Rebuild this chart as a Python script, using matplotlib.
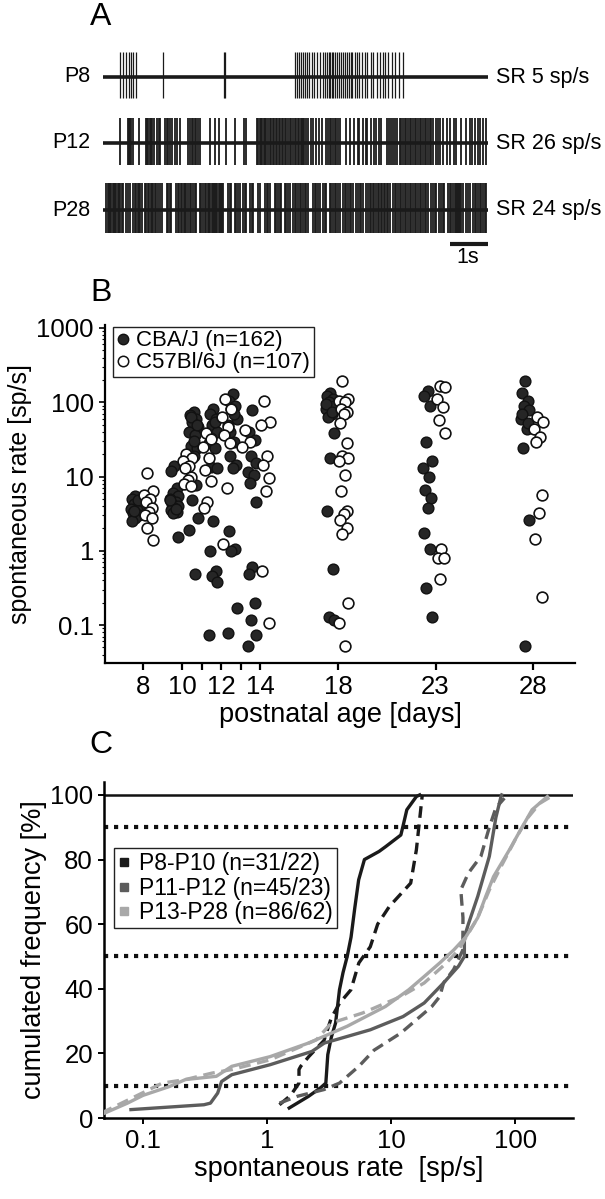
import numpy as np
import matplotlib
matplotlib.use('Agg')
import matplotlib.pyplot as plt
from matplotlib.lines import Line2D
from matplotlib.ticker import LogLocator, NullFormatter

plt.rcParams['font.family'] = ['Liberation Sans', 'DejaVu Sans']

# ---------------- panel A : example spike trains (spike times in s) ----------------
trace_names = ['P8', 'P12', 'P28']
trace_rates = ['SR 5 sp/s', 'SR 26 sp/s', 'SR 24 sp/s']

spikes_p8 = [0.44, 0.53, 0.61, 0.68, 0.74, 0.79, 0.85, 1.57, 3.13, 3.16,
             4.99, 5.03, 5.08, 5.13, 5.19, 5.24, 5.29, 5.36, 5.43, 5.48, 5.55, 5.64,
             5.71, 5.77, 5.83, 5.86, 5.90, 5.94, 5.98, 6.03, 6.09, 6.14, 6.19, 6.24,
             6.29, 6.33, 6.38, 6.43, 6.48, 6.54, 6.59, 6.66, 6.73, 6.81, 6.87, 6.95,
             7.02, 7.11, 7.19, 7.26, 7.33, 7.39, 7.51, 7.58, 7.70, 7.78]

spikes_p12 = [0.43, 0.65, 0.68, 0.71, 0.74, 0.78, 0.94, 1.11, 1.14, 1.18, 1.21, 1.25,
              1.28, 1.32, 1.39, 1.45, 1.49, 1.61, 1.65, 1.69, 1.75, 1.80, 1.87, 1.92,
              1.99, 2.21, 2.25, 2.30, 2.34, 2.38, 2.42, 2.47, 2.51, 2.77, 2.90, 3.00,
              3.20, 3.42, 3.65, 3.71, 4.00, 4.03, 4.07, 4.10, 4.14, 4.17, 4.21, 4.24,
              4.29, 4.33, 4.37, 4.42, 4.45, 4.49, 4.53, 4.57, 4.61, 4.64, 4.68, 4.72,
              4.76, 4.81, 4.85, 4.89, 4.94, 4.98, 5.02, 5.06, 5.09, 5.13, 5.16, 5.19,
              5.23, 5.26, 5.32, 5.39, 5.45, 5.54, 5.61, 5.70, 5.78, 5.84, 5.89, 5.93,
              5.97, 6.02, 6.06, 6.11, 6.16, 6.30, 6.41, 6.51, 6.62, 6.65, 6.75, 6.84,
              6.87, 6.97, 7.03, 7.08, 7.17, 7.23, 7.38, 7.43, 7.48, 7.53, 7.58, 7.64,
              7.71, 7.75, 7.79, 7.84, 7.88, 7.92, 7.97, 8.01, 8.05, 8.10, 8.14, 8.18,
              8.23, 8.27, 8.31, 8.36, 8.40, 8.44, 8.49, 8.53, 8.57, 8.64, 8.70, 8.76,
              8.83, 8.94, 9.01, 9.11, 9.18, 9.31, 9.44, 9.52, 9.59, 9.66, 9.73, 9.80,
              9.87, 9.94]

spikes_p28 = [0.09, 0.12, 0.15, 0.18, 0.21, 0.25, 0.28, 0.31, 0.35, 0.38, 0.42, 0.45,
              0.49, 0.52, 0.61, 0.65, 0.69, 0.78, 0.82, 0.86, 0.90, 0.94, 0.97, 1.00,
              1.08, 1.12, 1.16, 1.20, 1.24, 1.27, 1.30, 1.34, 1.38, 1.42, 1.47, 1.52,
              1.65, 1.69, 1.73, 1.77, 1.90, 1.94, 1.98, 2.02, 2.06, 2.10, 2.13, 2.16,
              2.21, 2.25, 2.29, 2.33, 2.38, 2.42, 2.51, 2.55, 2.60, 2.64, 2.68, 2.73,
              2.76, 2.79, 2.82, 2.85, 2.88, 2.91, 2.94, 2.97, 3.00, 3.03, 3.06, 3.09,
              3.12, 3.25, 3.29, 3.33, 3.42, 3.46, 3.50, 3.55, 3.64, 3.68, 3.72, 3.81,
              3.86, 3.90, 4.03, 4.07, 4.20, 4.25, 4.29, 4.33, 4.46, 4.50, 4.54, 4.59,
              4.63, 4.72, 4.76, 4.81, 4.85, 4.94, 4.98, 5.02, 5.07, 5.11, 5.15, 5.19,
              5.24, 5.28, 5.32, 5.45, 5.50, 5.54, 5.58, 5.63, 5.71, 5.76, 5.80, 5.89,
              5.93, 5.97, 6.02, 6.06, 6.10, 6.15, 6.23, 6.28, 6.32, 6.36, 6.41, 6.45,
              6.49, 6.58, 6.62, 6.67, 6.71, 6.75, 6.84, 6.88, 6.93, 6.97, 7.01, 7.05,
              7.09, 7.13, 7.17, 7.21, 7.25, 7.29, 7.33, 7.37, 7.41, 7.45, 7.53, 7.58,
              7.62, 7.66, 7.71, 7.75, 7.79, 7.84, 7.88, 7.92, 7.97, 8.01, 8.05, 8.10,
              8.14, 8.18, 8.23, 8.27, 8.31, 8.36, 8.40, 8.44, 8.53, 8.57, 8.62, 8.66,
              8.74, 8.79, 8.83, 8.87, 8.96, 9.00, 9.05, 9.09, 9.13, 9.16, 9.19, 9.22,
              9.25, 9.28, 9.31, 9.35, 9.44, 9.48, 9.52, 9.61, 9.65, 9.70, 9.74, 9.78,
              9.83, 9.87, 9.91, 9.96]

# ---------------- panel B : spontaneous rate vs age ----------------
ages = [8, 10, 11, 12, 13, 14, 18, 23, 28]
age_ticks = [8, 10, 11, 12, 13, 14, 18, 23, 28]
age_labels = ['8', '10', '', '12', '', '14', '18', '23', '28']

cba_p8 = [5.5, 5.0, 4.6, 4.3, 4.0, 3.7, 3.5, 3.2, 3.0, 2.8, 2.5, 4.8, 3.4]
cba_p10 = [14, 12, 7, 6, 5.5, 5.0, 4.5, 4.2, 4.0, 3.8, 3.5, 3.3, 3.2, 1.55, 4.8, 3.6]
cba_p11 = [73, 67, 60, 54, 46, 40, 36, 26, 24, 19, 9.5, 7.7, 4.9, 2.8, 1.9, 0.49, 63, 50, 30]
cba_p12 = [81, 70, 60, 49, 40, 28, 24, 13.5, 12.9, 2.5, 1.0, 0.54, 0.46, 0.38, 0.074, 55, 33]
cba_p13 = [130, 105, 90, 81, 60, 49, 29, 19, 14.3, 13, 1.85, 1.05, 1.0, 0.167, 0.077, 70, 40]
cba_p14 = [78, 40, 31, 19, 15, 11.6, 10.5, 8.2, 4.6, 0.6, 0.49, 0.195, 0.117, 0.074, 0.052]
cba_p18 = [135, 123, 110, 100, 90, 81, 70, 63, 38, 17.5, 3.4, 0.57, 0.13, 0.117, 95, 75]
cba_p23 = [142, 123, 90, 29, 16, 13, 10, 6.6, 5.1, 3.8, 1.75, 1.05, 0.32, 0.13]
cba_p28 = [195, 135, 105, 90, 78, 60, 44, 24, 2.6, 0.052, 70, 52]

c57_p8 = [11, 6.3, 5.7, 5.0, 4.5, 3.8, 3.3, 3.0, 2.8, 2.0, 1.4]
c57_p10 = [20, 18, 16, 14, 13, 10, 9, 8, 7.5]
c57_p11 = [38, 32, 25, 17.5, 12.3, 8.6, 4.6, 3.8]
c57_p12 = [110, 81, 63, 46, 36, 28, 7, 1.23]
c57_p13 = [42, 29, 25]
c57_p14 = [105, 54, 49, 19, 14.3, 9.5, 6.3, 0.54, 0.105]
c57_p18 = [195, 110, 105, 100, 81, 73, 70, 52, 28, 19, 17.5, 16, 10.5, 6.3, 3.4, 3.1,
           2.6, 2.0, 1.67, 0.2, 0.105, 0.052]
c57_p23 = [167, 160, 110, 86, 57, 38, 1.05, 0.81, 0.8, 0.42]
c57_p28 = [63, 54, 44, 34, 29, 5.7, 3.2, 1.43, 0.24]

cba_groups = [cba_p8, cba_p10, cba_p11, cba_p12, cba_p13, cba_p14, cba_p18, cba_p23, cba_p28]
c57_groups = [c57_p8, c57_p10, c57_p11, c57_p12, c57_p13, c57_p14, c57_p18, c57_p23, c57_p28]

# ---------------- panel C : cumulative distributions ----------------
p8_cba_rate = [1.51, 2.16, 2.69, 2.98, 3.09, 3.3, 3.57, 3.84, 4.1, 4.43, 4.76, 5.1, 5.48,
               6.1, 6.8, 8.0, 9.05, 12.0, 12.6, 13.4, 16.0, 17.0]
p8_cba_cum = [3.1, 6.7, 9.3, 10.8, 19.6, 25, 29.4, 39.7, 45, 50, 56, 65, 73.7,
              80, 81, 82.5, 84, 87.6, 91, 95.4, 99.5, 100]
p8_c57_rate = [1.26, 1.55, 1.81, 1.81, 1.87, 2.17, 2.88, 3.3, 3.84, 4.75, 5.5, 6.8, 7.8,
               9.7, 14.4, 16.0, 17.8, 18.0]
p8_c57_cum = [4.1, 7, 10.8, 15, 16, 19, 24, 31, 35.5, 39.7, 48, 53, 60,
              65.5, 72.7, 83, 99.5, 100]
p11_cba_rate = [0.08, 0.31, 0.35, 0.40, 0.43, 0.52, 1.06, 2.3, 2.9, 6.8, 12.5, 18.5, 26.5,
                35, 39, 39, 42, 50, 62, 70, 77, 78]
p11_cba_cum = [2.6, 4.1, 4.6, 7.7, 11.3, 13.4, 16.5, 20.6, 23.2, 27.3, 31.4, 35.6, 41.8,
               47, 50, 56, 60, 68.6, 81, 93, 99.5, 100]
p11_c57_rate = [1.26, 1.75, 2.88, 3.84, 5.5, 7.3, 12.0, 16, 21.3, 24.7, 26.5, 32, 37.9,
                38, 36.5, 42, 53, 62, 70, 82]
p11_c57_cum = [4.6, 6.7, 8.8, 10.8, 16, 21, 26.3, 30.4, 34.5, 37.6, 41.8, 46, 52,
               62, 70.6, 75.8, 81, 90, 96, 99]
p13_cba_rate = [0.049, 0.075, 0.1, 0.165, 0.22, 0.39, 0.52, 1.06, 2.16, 4.43, 9.0, 13.9,
                18.5, 24.7, 32, 40, 50, 58, 67, 90, 110, 137, 182]
p13_cba_cum = [1.5, 4.6, 7, 9.8, 11.9, 12.9, 16, 19, 23.2, 28.4, 34.5, 39.7,
               43.8, 48, 52, 56, 62, 68.6, 74.7, 83, 89, 95.4, 99.5]
p13_c57_rate = [0.046, 0.087, 0.143, 0.22, 0.36, 0.52, 1.06, 2.5, 3.3, 5.9, 12, 18.5, 28,
                35, 50, 62, 77, 103, 127, 158, 195]
p13_c57_cum = [1.5, 6.7, 10.8, 11.9, 13.9, 15, 18, 24.2, 29.4, 32.5, 37.6, 41.8, 48,
               52, 62, 70.6, 77.8, 87, 93, 97.4, 99.5]

group_names = ['P8-P10 (n=31/22)', 'P11-P12 (n=45/23)', 'P13-P28 (n=86/62)']
group_colors = ['#1a1a1a', '#5c5c5c', '#a8a8a8']
ref_levels = [10, 50, 90]

# ---------------- figure ----------------
W, H = 605, 1199
fig = plt.figure(figsize=(W / 100, H / 100), dpi=100)


def px_axes(x0, y0, x1, y1):
    return fig.add_axes([x0 / W, 1 - y1 / H, (x1 - x0) / W, (y1 - y0) / H])


def px_text(x, y, s, **kw):
    fig.text(x / W, 1 - y / H, s, **kw)


# panel A
axA = px_axes(103, 35, 488, 265)
axA.set_xlim(0, 10)
axA.set_ylim(265, 35)
axA.axis('off')
bases = [77, 143, 210]
amps = [(25, 21), (25, 22), (27, 23)]
widths = [0.9, 1.3, 1.3]
for sp, base, (up, dn), w in zip([spikes_p8, spikes_p12, spikes_p28], bases, amps, widths):
    axA.plot([0, 10], [base, base], color='#1a1a1a', lw=2.6, solid_capstyle='butt')
    axA.vlines(sp, base - up, base + dn, color='#1a1a1a', lw=w)
for name, rate, base in zip(trace_names, trace_rates, bases):
    px_text(90, base, name, ha='right', va='center', fontsize=15.5)
    px_text(496, base, rate, ha='left', va='center', fontsize=15.5)
axA.plot([9.0, 10.0], [244, 244], color='#1a1a1a', lw=3, solid_capstyle='butt')
px_text(468, 258, '1s', ha='center', va='center', fontsize=15.5)

px_text(101, 17, 'A', ha='center', va='center', fontsize=23)
px_text(101, 293, 'B', ha='center', va='center', fontsize=23)
px_text(101, 745, 'C', ha='center', va='center', fontsize=23)

# panel B
axB = px_axes(105, 325, 575, 663)
pattern = [0.0, -0.18, 0.14, -0.08, 0.2, -0.24, 0.07, -0.13, 0.17]
for day, cba, c57 in zip(ages, cba_groups, c57_groups):
    xf = [day - 0.4 + pattern[i % len(pattern)] for i in range(len(cba))]
    xo = [day + 0.3 + pattern[(i + 3) % len(pattern)] for i in range(len(c57))]
    axB.scatter(xf, cba, s=60, facecolor='#262626', edgecolor='#111111', lw=1.0, zorder=3)
    axB.scatter(xo, c57, s=60, facecolor='white', edgecolor='#111111', lw=1.2, zorder=4)
axB.set_yscale('log')
axB.set_xlim(6.05, 30.15)
axB.set_ylim(0.0308, 1097)
axB.set_yticks([0.1, 1, 10, 100, 1000])
axB.set_yticklabels(['0.1', '1', '10', '100', '1000'])
axB.yaxis.set_minor_locator(LogLocator(base=10, subs=np.arange(2, 10)))
axB.yaxis.set_minor_formatter(NullFormatter())
axB.set_xticks(age_ticks)
axB.set_xticklabels(age_labels, family=['Liberation Sans Narrow', 'Liberation Sans'], fontsize=18.5)
for s in ['top', 'right']:
    axB.spines[s].set_visible(False)
for s in ['left', 'bottom']:
    axB.spines[s].set_linewidth(1.6)
axB.tick_params(axis='y', which='major', length=4, width=1.2, labelsize=18.5, pad=4)
axB.tick_params(axis='y', which='minor', length=2.5, width=0.8)
axB.tick_params(axis='x', length=5, width=1.6, pad=4)
axB.set_ylabel('spontaneous rate [sp/s]', fontsize=18, labelpad=3)
axB.set_xlabel('postnatal age [days]', fontsize=19.5, labelpad=2)
hB = [Line2D([], [], marker='o', ls='', mfc='#262626', mec='#111111', ms=7.5),
      Line2D([], [], marker='o', ls='', mfc='white', mec='#111111', ms=7.5, mew=1.1)]
legB = axB.legend(hB, ['CBA/J (n=162)', 'C57Bl/6J (n=107)'], loc='upper left',
                  bbox_to_anchor=(0.017, 0.994), borderaxespad=0, fontsize=16,
                  handlelength=0.6, handletextpad=0.3, labelspacing=0.05,
                  borderpad=0.15, fancybox=False, edgecolor='#222222', framealpha=1)
legB.get_frame().set_linewidth(1.0)

# panel C
axC = px_axes(104, 782, 573, 1118)
axC.set_xscale('log')
axC.set_xlim(0.0485, 293)
axC.set_ylim(0, 104)
for lev in ref_levels:
    axC.axhline(lev, color='#111111', lw=3, ls=(0, (1, 1.4)), dash_capstyle='butt', zorder=1)
axC.axhline(100, color='#111111', lw=1.8, zorder=1)
curves = [(p8_cba_rate, p8_cba_cum, p8_c57_rate, p8_c57_cum),
          (p11_cba_rate, p11_cba_cum, p11_c57_rate, p11_c57_cum),
          (p13_cba_rate, p13_cba_cum, p13_c57_rate, p13_c57_cum)]
for (xr, yr, xd, yd), col in zip(curves, group_colors):
    axC.plot(xr, yr, color=col, lw=2.4, zorder=3)
    axC.plot(xd, yd, color=col, lw=2.4, dashes=(3.5, 2.0), zorder=3)
axC.set_xticks([0.1, 1, 10, 100])
axC.set_xticklabels(['0.1', '1', '10', '100'])
axC.xaxis.set_minor_locator(plt.NullLocator())
axC.set_yticks([0, 20, 40, 60, 80, 100])
for s in ['top', 'right']:
    axC.spines[s].set_visible(False)
for s in ['left', 'bottom']:
    axC.spines[s].set_linewidth(1.8)
axC.tick_params(axis='both', length=4, width=1.4, labelsize=18.5, pad=4)
axC.set_ylabel('cumulated frequency [%]', fontsize=19.5, labelpad=2)
axC.set_xlabel('spontaneous rate  [sp/s]', fontsize=19.5, labelpad=2)
hC = [Line2D([], [], marker='s', ls='', color=c, ms=6) for c in group_colors]
legC = axC.legend(hC, group_names, loc='upper left', bbox_to_anchor=(0.021, 0.804),
                  borderaxespad=0, fontsize=16.5, handlelength=0.5, handletextpad=0.4,
                  labelspacing=0.05, borderpad=0.2, fancybox=False,
                  edgecolor='#222222', framealpha=1)
legC.get_frame().set_linewidth(1.0)

fig.savefig('out.png', dpi=100)
